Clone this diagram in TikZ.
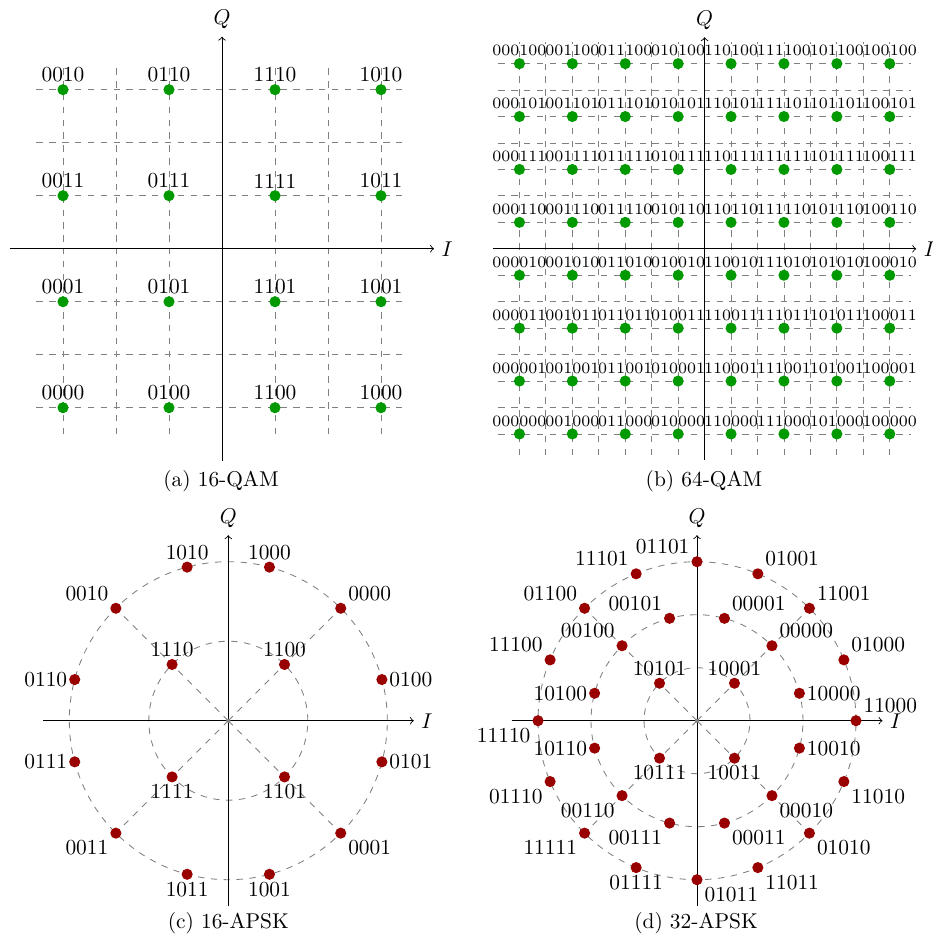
\documentclass[tikz,border=0pt]{standalone}
\usepackage{tikz}
\definecolor{qamgreen}{RGB}{0,153,0}
\definecolor{apskred}{RGB}{153,0,0}
\tikzset{
  gridline/.style={gray, dashed, line width=0.4pt},
  axisline/.style={->, black, line width=0.4pt},
  qamdot/.style={circle, fill=qamgreen, inner sep=0pt, minimum size=5.2pt},
  apskdot/.style={circle, fill=apskred, inner sep=0pt, minimum size=5.2pt},
  bitlbl/.style={inner sep=3.333pt},
  smallbitlbl/.style={inner sep=3.333pt, font=\fontsize{7.4}{8.5}\selectfont},
  origindot/.style={circle, fill=gray, inner sep=0pt, minimum size=2pt},
  captionlbl/.style={inner sep=0pt},
  axislbl/.style={inner sep=3.333pt},
}
\begin{document}
\begin{tikzpicture}[x=0.4673pt, y=0.4673pt]
\useasboundingbox (0,0) rectangle (932,-936);

% ---------------- (a) 16-QAM ----------------
\begin{scope}[shift={(222,-248.7)}, x=24.767pt, y=24.767pt]
  \foreach \i in {-3,...,3}{
    \draw[gridline] (\i,-3.5) -- (\i,3.5);
    \draw[gridline] (-3.5,\i) -- (3.5,\i);
  }
  \coordinate (aW) at (-4,0); \coordinate (aE) at (4,0);
  \coordinate (aS) at (0,-4); \coordinate (aN) at (0,4);
  \draw[axisline] (aW) -- (aE);
  \draw[axisline] (aS) -- (aN);
  \node[axislbl, anchor=west] (aI) at (aE) {$I$};
  \node[axislbl, anchor=south] (aQ) at (aN) {$Q$};
  \foreach \x/\cb in {-3/00,-1/01,1/11,3/10}{
    \foreach \y/\rb in {3/10,1/11,-1/01,-3/00}{
      \node[qamdot] (a\cb\rb) at (\x,\y) {};
      \node[bitlbl, anchor=south] (la\cb\rb) at (a\cb\rb.center) {\cb\rb};
    }
  }
\end{scope}
\node[captionlbl] (capa) at (221,-480.7) {(a) 16-QAM};

% ---------------- (b) 64-QAM ----------------
\begin{scope}[shift={(704.6,-248.8)}, x=12.36pt, y=12.36pt]
  \foreach \i in {-7,...,7}{
    \draw[gridline] (\i,-7.8) -- (\i,7.8);
    \draw[gridline] (-7.8,\i) -- (7.8,\i);
  }
  \coordinate (bW) at (-8,0); \coordinate (bE) at (8,0);
  \coordinate (bS) at (0,-8); \coordinate (bN) at (0,8);
  \draw[axisline] (bW) -- (bE);
  \draw[axisline] (bS) -- (bN);
  \node[axislbl, anchor=west] (bI) at (bE) {$I$};
  \node[axislbl, anchor=south] (bQ) at (bN) {$Q$};
  \foreach \x/\cb in {-7/000,-5/001,-3/011,-1/010,1/110,3/111,5/101,7/100}{
    \foreach \y/\rb in {7/100,5/101,3/111,1/110,-1/010,-3/011,-5/001,-7/000}{
      \node[qamdot] (b\cb\rb) at (\x,\y) {};
      \node[smallbitlbl, anchor=south] (lb\cb\rb) at (b\cb\rb.center) {\cb\rb};
    }
  }
\end{scope}
\node[captionlbl] (capb) at (704,-480.7) {(b) 64-QAM};

% ---------------- (c) 16-APSK ----------------
\begin{scope}[shift={(228.3,-720.7)}, x=24.767pt, y=24.767pt]
  \coordinate (cO) at (0,0);
  \draw[gridline] (cO) circle (3);
  \draw[gridline] (cO) circle (1.5);
  \foreach \a in {45,135,225,315}{
    \coordinate (cr\a) at (\a:3);
    \draw[gridline] (cO) -- (cr\a);
  }
  \coordinate (cW) at (-3.5,0); \coordinate (cE) at (3.5,0);
  \coordinate (cS) at (0,-3.5); \coordinate (cN) at (0,3.5);
  \draw[axisline] (cW) -- (cE);
  \draw[axisline] (cS) -- (cN);
  \node[axislbl, anchor=west] (cI) at (cE) {$I$};
  \node[axislbl, anchor=south] (cQ) at (cN) {$Q$};
  \node[origindot] (cdot) at (cO) {};
  \foreach \a/\lb/\an in {15/0100/west, 45/0000/south west, 75/1000/south,
      105/1010/south, 135/0010/south east, 165/0110/east, 195/0111/east,
      225/0011/north east, 255/1011/north, 285/1001/north, 315/0001/north west,
      345/0101/west}{
    \node[apskdot] (c\lb) at (\a:3) {};
    \node[bitlbl, anchor=\an] (lc\lb) at (c\lb.center) {\lb};
  }
  \foreach \a/\lb/\an in {45/1100/south, 135/1110/south, 225/1111/north, 315/1101/north}{
    \node[apskdot] (c\lb) at (\a:1.5) {};
    \node[bitlbl, anchor=\an] (lc\lb) at (c\lb.center) {\lb};
  }
\end{scope}
\node[captionlbl] (capc) at (228.3,-923.3) {(c) 16-APSK};

% ---------------- (d) 32-APSK ----------------
\begin{scope}[shift={(697,-720.7)}, x=24.767pt, y=24.767pt]
  \coordinate (dO) at (0,0);
  \draw[gridline] (dO) circle (3);
  \draw[gridline] (dO) circle (2);
  \draw[gridline] (dO) circle (1);
  \foreach \a in {45,135,225,315}{
    \coordinate (dr\a) at (\a:3);
    \draw[gridline] (dO) -- (dr\a);
  }
  \coordinate (dW) at (-3.5,0); \coordinate (dE) at (3.5,0);
  \coordinate (dS) at (0,-3.5); \coordinate (dN) at (0,3.5);
  \draw[axisline] (dW) -- (dE);
  \draw[axisline] (dS) -- (dN);
  \node[axislbl, anchor=west] (dI) at (dE) {$I$};
  \node[axislbl, anchor=south] (dQ) at (dN) {$Q$};
  \node[origindot] (ddot) at (dO) {};
  \foreach \a/\lb/\an in {0/11000/south west, 22.5/01000/south west,
      45/11001/south west, 67.5/01001/south west, 90/01101/south east,
      112.5/11101/south east, 135/01100/south east, 157.5/11100/south east,
      180/11110/north east, 202.5/01110/north east, 225/11111/north east,
      247.5/01111/north, 270/01011/north west, 292.5/11011/north west,
      315/01010/north west, 337.5/11010/north west}{
    \node[apskdot] (d\lb) at (\a:3) {};
    \node[bitlbl, anchor=\an] (ld\lb) at (d\lb.center) {\lb};
  }
  \foreach \a/\lb/\an in {15/10000/west, 45/00000/south west, 75/00001/south west,
      105/00101/south east, 135/00100/south east, 165/10100/east, 195/10110/east,
      225/00110/north east, 255/00111/north east, 285/00011/north west,
      315/00010/north west, 345/10010/west}{
    \node[apskdot] (d\lb) at (\a:2) {};
    \node[bitlbl, anchor=\an] (ld\lb) at (d\lb.center) {\lb};
  }
  \foreach \a/\lb/\an in {45/10001/south, 135/10101/south, 225/10111/north, 315/10011/north}{
    \node[apskdot] (d\lb) at (\a:1) {};
    \node[bitlbl, anchor=\an] (ld\lb) at (d\lb.center) {\lb};
  }
\end{scope}
\node[captionlbl] (capd) at (696,-923.3) {(d) 32-APSK};
\end{tikzpicture}
\end{document}
